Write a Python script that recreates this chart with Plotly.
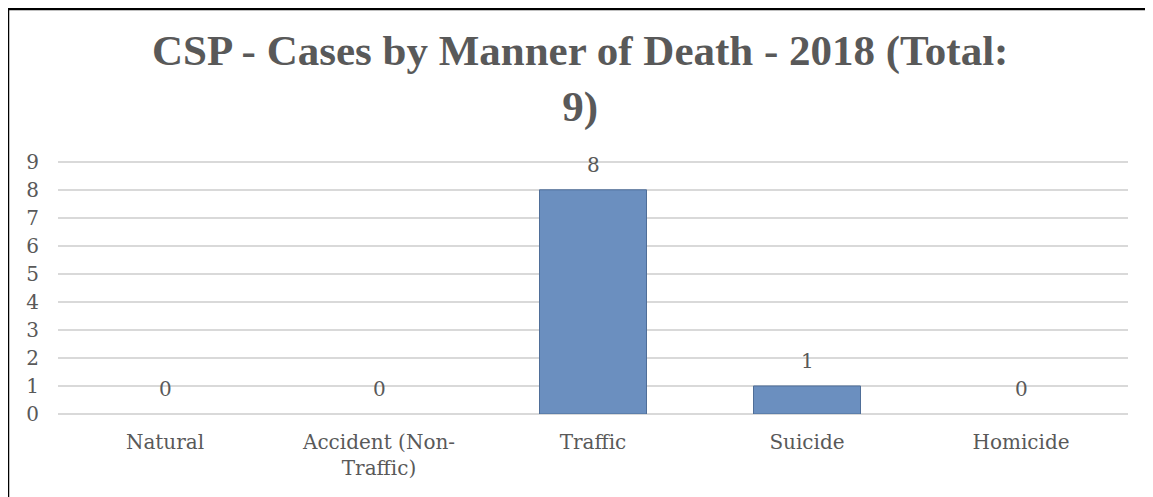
import plotly.graph_objects as go

categories = ["Natural", "Accident (Non-<br>Traffic)", "Traffic", "Suicide", "Homicide"]
values = [0, 0, 8, 1, 0]
y_ticks = [0, 1, 2, 3, 4, 5, 6, 7, 8, 9]
title_text = "CSP - Cases by Manner of Death - 2018 (Total:<br>9)"

TEXT = "#595959"
SERIF = "DejaVu Serif"

# page body has an 8px margin, so figure is sized/offset accordingly
W, H = 1145, 489
Y_TOP = 9.1
ML, MR, MB = 50, 25, 83
MT = 154 - round(28 * (Y_TOP - 9))
PW, PH = W - ML - MR, H - MT - MB

fig = go.Figure()
fig.add_trace(go.Bar(
    x=categories, y=values, width=0.5,
    marker=dict(color="#6b8fbf",
                line=dict(color="#4f6e98", width=[0 if v == 0 else 1 for v in values])),
    hoverinfo="x+y",
))

for c, v in zip(categories, values):
    fig.add_annotation(x=c, y=v, text=str(v), showarrow=False, yshift=25,
                       font=dict(family=SERIF, size=20, color=TEXT))

# chart frame
fig.add_shape(type="rect", xref="paper", yref="paper",
              x0=(0 - ML) / PW, x1=1.2, y0=-1.0, y1=1 + (MT - 1) / PH,
              line=dict(color="black", width=2.5), fillcolor="rgba(0,0,0,0)", layer="above")

# title
fig.add_annotation(text=title_text, xref="paper", yref="paper",
                   x=(572 - ML) / PW, y=1 + (MT - 71) / PH, xanchor="center", yanchor="middle",
                   showarrow=False, align="center",
                   font=dict(family="Liberation Serif", size=43, color=TEXT, weight="bold"))

fig.update_layout(
    width=W, height=H,
    margin=dict(l=ML, r=MR, t=MT, b=MB),
    paper_bgcolor="white", plot_bgcolor="white",
    showlegend=False,
    xaxis=dict(showgrid=False, showline=False, ticks="", ticklabelstandoff=14,
               tickfont=dict(family=SERIF, size=20, color=TEXT)),
    yaxis=dict(range=[0, Y_TOP], tickvals=y_ticks, showgrid=True, gridcolor="#d9d9d9", gridwidth=1.5,
               zeroline=True, zerolinecolor="#d9d9d9", zerolinewidth=1.5,
               tickfont=dict(family=SERIF, size=20, color=TEXT), ticklabelstandoff=18),
)

fig.write_html("out.html")
